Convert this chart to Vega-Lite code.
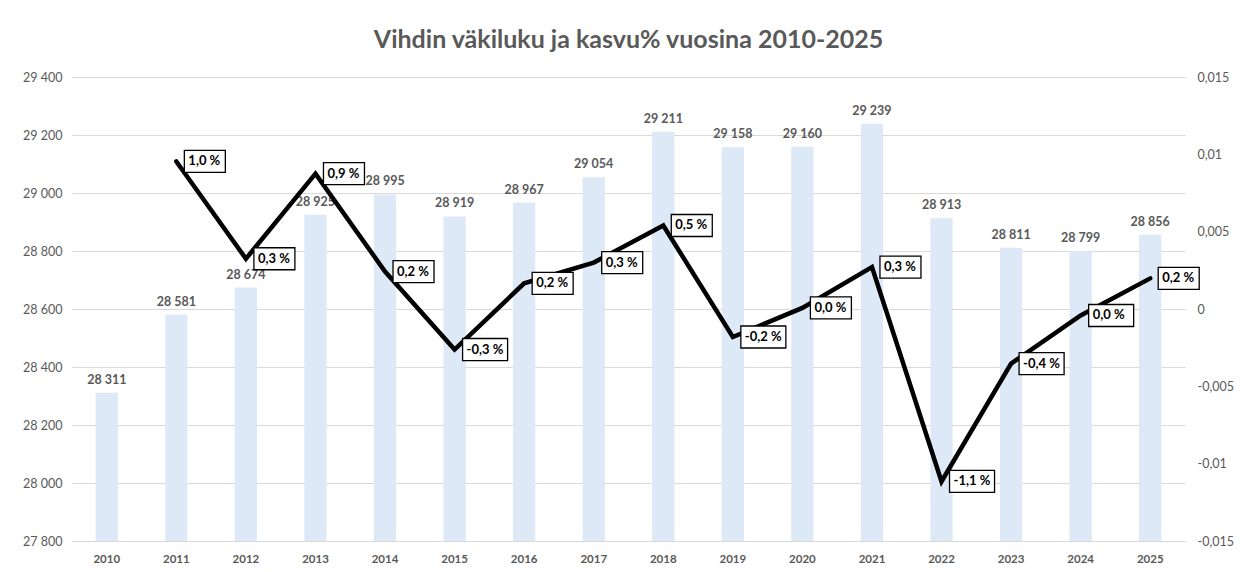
{
  "$schema": "https://vega.github.io/schema/vega-lite/v6.json",
  "width": 1113,
  "height": 464,
  "autosize": {"type": "none"},
  "padding": {"left": 72, "top": 77, "right": 67, "bottom": 31},
  "background": "white",
  "title": {
    "text": "Vihdin väkiluku ja kasvu% vuosina 2010-2025",
    "font": "Lato",
    "fontSize": 25,
    "fontWeight": "bold",
    "color": "#595959",
    "anchor": "middle",
    "offset": 18
  },
  "data": {
    "values": [
      {"year": "2010", "pop": 28311, "g": null, "gl": null},
      {"year": "2011", "pop": 28581, "g": 0.00954, "gl": "1,0 %"},
      {"year": "2012", "pop": 28674, "g": 0.00325, "gl": "0,3 %"},
      {"year": "2013", "pop": 28925, "g": 0.00875, "gl": "0,9 %"},
      {"year": "2014", "pop": 28995, "g": 0.00242, "gl": "0,2 %"},
      {"year": "2015", "pop": 28919, "g": -0.00262, "gl": "-0,3 %"},
      {"year": "2016", "pop": 28967, "g": 0.00166, "gl": "0,2 %"},
      {"year": "2017", "pop": 29054, "g": 0.0030, "gl": "0,3 %"},
      {"year": "2018", "pop": 29211, "g": 0.0054, "gl": "0,5 %"},
      {"year": "2019", "pop": 29158, "g": -0.00181, "gl": "-0,2 %"},
      {"year": "2020", "pop": 29160, "g": 0.00007, "gl": "0,0 %"},
      {"year": "2021", "pop": 29239, "g": 0.00271, "gl": "0,3 %"},
      {"year": "2022", "pop": 28913, "g": -0.01115, "gl": "-1,1 %"},
      {"year": "2023", "pop": 28811, "g": -0.00353, "gl": "-0,4 %"},
      {"year": "2024", "pop": 28799, "g": -0.00042, "gl": "0,0 %"},
      {"year": "2025", "pop": 28856, "g": 0.00198, "gl": "0,2 %"}
    ]
  },
  "encoding": {
    "x": {
      "field": "year",
      "type": "ordinal",
      "scale": {"paddingInner": 0.68, "paddingOuter": 0.34},
      "axis": {
        "title": null,
        "labelAngle": 0,
        "labelFont": "Lato",
        "labelFontWeight": "bold",
        "labelFontSize": 11.5,
        "labelColor": "#595959",
        "domain": false,
        "ticks": false,
        "labelPadding": 12
      }
    }
  },
  "layer": [
    {
      "encoding": {
        "y": {
          "field": "pop",
          "type": "quantitative",
          "scale": {"domain": [27800, 29400], "zero": false, "nice": false},
          "axis": {
            "title": null,
            "orient": "left",
            "values": [27800, 28000, 28200, 28400, 28600, 28800, 29000, 29200, 29400],
            "format": ",d",
            "grid": true,
            "gridColor": "#d9d9d9",
            "gridWidth": 1,
            "domain": false,
            "ticks": false,
            "labelFont": "Lato",
            "labelFontSize": 12.5,
            "labelColor": "#595959",
            "labelPadding": 10
          }
        }
      },
      "layer": [
        {"mark": {"type": "bar", "color": "#dde9f6", "clip": true}},
        {
          "mark": {
            "type": "text",
            "font": "Lato",
            "fontSize": 12.5,
            "fontWeight": "bold",
            "color": "#595959",
            "baseline": "alphabetic",
            "dy": -9
          },
          "encoding": {"text": {"field": "pop", "type": "quantitative", "format": ",d"}}
        }
      ]
    },
    {
      "transform": [{"filter": "datum.g != null"}],
      "encoding": {
        "y": {
          "field": "g",
          "type": "quantitative",
          "scale": {"domain": [-0.015, 0.015], "nice": false, "zero": false},
          "axis": {
            "title": null,
            "orient": "right",
            "values": [-0.015, -0.01, -0.005, 0, 0.005, 0.01, 0.015],
            "labelExpr": "replace(replace(format(datum.value, '.3~f'), '.', ','), '\u2212', '-')",
            "grid": false,
            "domain": false,
            "ticks": false,
            "labelFont": "Lato",
            "labelFontSize": 12.5,
            "labelColor": "#595959",
            "labelPadding": 12
          }
        }
      },
      "layer": [
        {"mark": {"type": "line", "color": "black", "strokeWidth": 4.5, "strokeCap": "round"}},
        {
          "mark": {
            "type": "point",
            "filled": true,
            "fill": "white",
            "stroke": "black",
            "strokeWidth": 1.3,
            "opacity": 1,
            "fillOpacity": 1,
            "strokeOpacity": 1,
            "size": 1764
          },
          "encoding": {
            "shape": {
              "condition": {"test": "datum.g < 0", "value": "M0.381,-0.524H2.524V0.524H0.381Z"},
              "value": "M0.381,-0.524H2.333V0.524H0.381Z"
            }
          }
        },
        {
          "mark": {
            "type": "text",
            "font": "Lato",
            "fontSize": 13,
            "fontWeight": "bold",
            "color": "black",
            "align": "left",
            "baseline": "middle",
            "dx": 12
          },
          "encoding": {"text": {"field": "gl", "type": "nominal"}}
        }
      ]
    }
  ],
  "resolve": {"scale": {"y": "independent"}},
  "config": {
    "view": {"stroke": null},
    "locale": {
      "number": {
        "decimal": ",",
        "thousands": " ",
        "grouping": [3],
        "currency": ["", " €"],
        "minus": "-"
      }
    }
  }
}
